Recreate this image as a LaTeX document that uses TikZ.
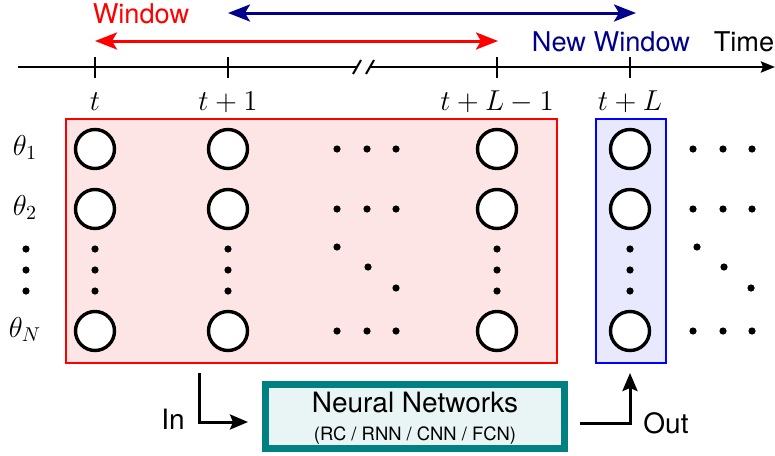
\documentclass[tikz,border=0pt]{standalone}
\usepackage{fontspec}
\setsansfont{TeX Gyre Heros}
\usetikzlibrary{arrows.meta}
\definecolor{navyc}{RGB}{0,0,140}
\definecolor{tealc}{RGB}{0,128,128}
\definecolor{pinkfill}{RGB}{253,229,229}
\definecolor{bluefill}{RGB}{232,232,255}
\definecolor{nnfill}{RGB}{233,244,244}
\begin{document}
\begin{tikzpicture}[x=0.5pt,y=-0.5pt,
  neuron/.style={circle,draw=black,line width=1.7pt,fill=white,minimum size=19.5pt,inner sep=0pt},
  dotnode/.style={circle,fill=black,inner sep=0pt,minimum size=3.6pt},
  mathlab/.style={font=\fontsize{14}{16}\selectfont,inner sep=0pt},
  stxt/.style={font=\sffamily\fontsize{13.6}{16}\selectfont,inner sep=0pt},
  bigarrow/.style={line width=1.5pt,{Stealth[length=11pt,width=8.5pt,inset=2.5pt]}-{Stealth[length=11pt,width=8.5pt,inset=2.5pt]}},
  smallarrow/.style={line width=1.5pt,-{Stealth[length=9pt,width=7.5pt,inset=1.5pt]}}
]
\useasboundingbox (0,0) rectangle (775,455);

% windows boxes
\node[draw=red,fill=pinkfill,line width=1.2pt,minimum width=245.5pt,minimum height=122pt,inner sep=0pt] (win) at (311.5,241) {};
\node[draw=blue,fill=bluefill,line width=1.2pt,minimum width=35pt,minimum height=122pt,inner sep=0pt] (nwin) at (631,241) {};

% time axis
\coordinate (ax0) at (18,67);
\coordinate (axb1) at (357,67);
\coordinate (axb2) at (370,67);
\coordinate (ax1) at (775,67);
\draw[line width=1.2pt] (ax0) -- (axb1);
\draw[line width=1.2pt,-{Stealth[length=7pt,width=5.5pt,inset=1pt]}] (axb2) -- (ax1);
\coordinate (s1a) at (353,74); \coordinate (s1b) at (361,60);
\coordinate (s2a) at (366,74); \coordinate (s2b) at (374,60);
\draw[line width=1pt] (s1a) -- (s1b);
\draw[line width=1pt] (s2a) -- (s2b);

% ticks
\foreach \x/\n in {95/a,228/b,497/c,630/d}{
  \coordinate (tk\n t) at (\x,57);
  \coordinate (tk\n b) at (\x,78);
  \draw[line width=1pt] (tk\n t) -- (tk\n b);
}
\node[mathlab,anchor=base] (lt) at (95,110) {$t$};
\node[mathlab,anchor=base] (lt1) at (228,110) {$t+1$};
\node[mathlab,anchor=base] (ltL1) at (497,110) {$t+L-1$};
\node[mathlab,anchor=base] (ltL) at (630,110) {$t+L$};

% window arrows
\coordinate (wl) at (95,41);
\coordinate (wr) at (498,41);
\draw[bigarrow,red] (wl) -- (wr);
\coordinate (nwl) at (228,13);
\coordinate (nwr) at (636,13);
\draw[bigarrow,navyc] (nwl) -- (nwr);
\node[stxt,anchor=base,text=red] (wtxt) at (141,23) {Window};
\node[stxt,anchor=base,text=navyc] (nwtxt) at (611,51.5) {New Window};
\node[stxt,anchor=base] (time) at (744,51.5) {Time};

% theta labels
\node[mathlab,anchor=base] (th1) at (25,155.5) {$\theta_1$};
\node[mathlab,anchor=base] (th2) at (25,215.5) {$\theta_2$};
\node[mathlab,anchor=base] (thN) at (25,337.5) {$\theta_N$};
\foreach \y in {249,270,291}{\node[dotnode] at (26,\y) {};}

% neuron columns
\foreach \x/\n in {95/a,228/b,497/c,630/d}{
  \node[neuron] (\n1) at (\x,149) {};
  \node[neuron] (\n2) at (\x,209) {};
  \node[neuron] (\n3) at (\x,331) {};
  \foreach \y in {249,270,291}{\node[dotnode] at (\x,\y) {};}
}

% middle dots
\foreach \y in {149,209,331}{
  \foreach \x in {337,367,396}{\node[dotnode] at (\x,\y) {};}
  \foreach \x in {693,723,752}{\node[dotnode] at (\x,\y) {};}
}
\node[dotnode] at (337,247) {};
\node[dotnode] at (368,267) {};
\node[dotnode] at (396,288) {};
\node[dotnode] at (697,247) {};
\node[dotnode] at (724,267) {};
\node[dotnode] at (751,288) {};

% neural network box
\node[draw=tealc,fill=nnfill,line width=3.5pt,minimum width=149.5pt,minimum height=32pt,inner sep=0pt] (nn) at (415,416.5) {};
\node[stxt,anchor=base,font=\sffamily\fontsize{14}{16}\selectfont] (nnt) at (415,412) {Neural Networks};
\node[stxt,anchor=base,font=\sffamily\fontsize{9.2}{11}\selectfont] (nns) at (415,440) {(RC / RNN / CNN / FCN)};

% in / out arrows
\coordinate (inA) at (199,373);
\coordinate (inB) at (248,422);
\draw[smallarrow] (inA) |- (inB);
\node[stxt,anchor=base,font=\sffamily\fontsize{14}{16}\selectfont] (intxt) at (173,429) {In};
\coordinate (outA) at (580,423);
\coordinate (outB) at (630,373);
\draw[smallarrow] (outA) -| (outB);
\node[stxt,anchor=base,font=\sffamily\fontsize{14}{16}\selectfont] (outtxt) at (666,433) {Out};
\end{tikzpicture}
\end{document}
